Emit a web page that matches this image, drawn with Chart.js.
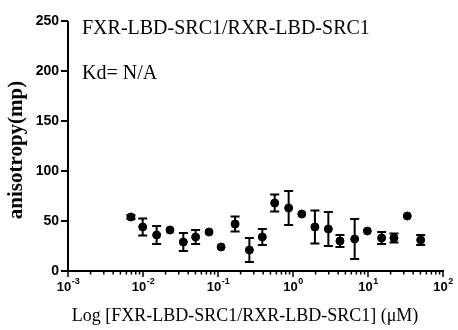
<!DOCTYPE html>
<html>
<head>
<meta charset="utf-8">
<script src="https://cdn.jsdelivr.net/npm/chart.js@4/dist/chart.umd.min.js"></script>
<style>
  html, body { margin: 0; padding: 0; background: #fff; }
</style>
</head>
<body>
<canvas id="myChart" width="458" height="330"></canvas>
<script>
// concentration (uM), mean anisotropy (mP) and error (SD)
const concentrations = [0.0069, 0.0099, 0.0152, 0.0229, 0.0345, 0.0503, 0.0759, 0.110, 0.169, 0.262, 0.39, 0.57, 0.875, 1.31, 1.96, 2.96, 4.23, 6.64, 9.8, 15.2, 22.2, 33.4, 50.4];
const anisotropy = [54, 44, 36, 41, 29, 34, 39, 24, 47, 21, 34, 68, 63, 57, 44, 42, 30, 32, 40, 33, 33, 55, 31];
const errors = [2, 8.5, 9, 0, 9, 7, 0, 0, 7.5, 12, 8, 8.5, 17, 0, 16.5, 17, 6, 20, 0, 6, 4.5, 0, 5];

const yTicks = [0, 50, 100, 150, 200, 250];
const xDecades = [0.001, 0.01, 0.1, 1, 10, 100];
const xExponents = ['-3', '-2', '-1', '0', '1', '2'];

const titleText = 'FXR-LBD-SRC1/RXR-LBD-SRC1';
const kdText = 'Kd= N/A';
const xTitle = 'Log [FXR-LBD-SRC1/RXR-LBD-SRC1] (\u03BCM)';
const yTitle = 'anisotropy(mp)';

const serif = '"Liberation Serif", "Times New Roman", serif';
const sans = '"Liberation Sans", Arial, sans-serif';

let points = concentrations.map((c, i) => ({ x: c, y: anisotropy[i] }));

// error bars, axes, tick marks and the texts chart.js can't place like the original
const extras = {
    id: 'extras',
    afterDraw(chart) {
        let ctx = chart.ctx;
        let xs = chart.scales.x;
        let ys = chart.scales.y;
        let area = chart.chartArea;
        ctx.save();
        ctx.strokeStyle = '#000';
        ctx.fillStyle = '#000';
        ctx.lineWidth = 2;
        points.forEach((p, i) => {
            if (!errors[i]) return;
            let px = xs.getPixelForValue(p.x);
            let top = ys.getPixelForValue(p.y + errors[i]);
            let bot = ys.getPixelForValue(p.y - errors[i]);
            ctx.beginPath();
            ctx.moveTo(px, top); ctx.lineTo(px, bot);
            ctx.moveTo(px - 4.5, top); ctx.lineTo(px + 4.5, top);
            ctx.moveTo(px - 4.5, bot); ctx.lineTo(px + 4.5, bot);
            ctx.stroke();
        });

        // axis lines
        ctx.fillRect(area.left - 1, area.top, 2, area.bottom - area.top + 1);
        ctx.fillRect(area.left - 1, area.bottom - 1, area.right - area.left + 2, 2);

        // y ticks
        yTicks.forEach(v => {
            let py = ys.getPixelForValue(v);
            ctx.fillRect(area.left - 7, py - 1, 7, 2);
        });

        // x ticks (major + minor) and decade labels
        xDecades.forEach((d, k) => {
            let px = xs.getPixelForValue(d);
            ctx.fillRect(px - 0.75, area.bottom, 1.5, 6);
            ctx.font = 'bold 13px ' + sans;
            let w1 = ctx.measureText('10').width;
            ctx.font = 'bold 9px ' + sans;
            let w2 = ctx.measureText(xExponents[k]).width;
            let x0 = px - (w1 + w2) / 2;
            ctx.textAlign = 'left';
            ctx.textBaseline = 'alphabetic';
            ctx.font = 'bold 13px ' + sans;
            ctx.fillText('10', x0, 291);
            ctx.font = 'bold 9px ' + sans;
            ctx.fillText(xExponents[k], x0 + w1 + 0.5, 284);
            if (k == xDecades.length - 1) return;
            for (let m = 2; m <= 9; m++) {
                let mx = xs.getPixelForValue(d * m);
                ctx.fillRect(mx - 0.75, area.bottom, 1.5, 3.5);
            }
        });

        // texts inside the plot
        ctx.font = '20px ' + serif;
        ctx.textBaseline = 'middle';
        ctx.textAlign = 'left';
        ctx.fillText(titleText, area.left + 14, 29);
        ctx.fillText(kdText, area.left + 14, 74);

        // axis titles
        ctx.textAlign = 'center';
        ctx.font = '18px ' + serif;
        ctx.fillText(xTitle, 245, 316);
        ctx.translate(17, 150);
        ctx.rotate(-Math.PI / 2);
        ctx.font = 'bold 21px ' + serif;
        ctx.fillText(yTitle, 0, 0);
        ctx.restore();
    }
};

let chart = new Chart(document.getElementById('myChart').getContext('2d'), {
    type: 'scatter',
    data: {
        datasets: [{
            data: points,
            backgroundColor: '#000',
            borderColor: '#000',
            pointRadius: 4,
            pointHoverRadius: 4
        }]
    },
    options: {
        responsive: false,
        animation: false,
        events: [],
        layout: { padding: { left: 0, right: 15, top: 21, bottom: 0 } },
        plugins: { legend: { display: false }, tooltip: { enabled: false } },
        scales: {
            x: {
                type: 'logarithmic',
                min: 0.001,
                max: 100,
                grid: { display: false },
                border: { display: false },
                afterFit: s => { s.height = 59; },
                ticks: { display: false }
            },
            y: {
                min: 0,
                max: 250,
                grid: { display: false },
                border: { display: false },
                afterFit: s => { s.width = 68; },
                afterBuildTicks: s => { s.ticks = yTicks.map(v => ({ value: v })); },
                ticks: {
                    padding: 1,
                    color: '#000',
                    font: { family: sans, size: 14, weight: 'bold' }
                }
            }
        }
    },
    plugins: [extras]
});
</script>
</body>
</html>
